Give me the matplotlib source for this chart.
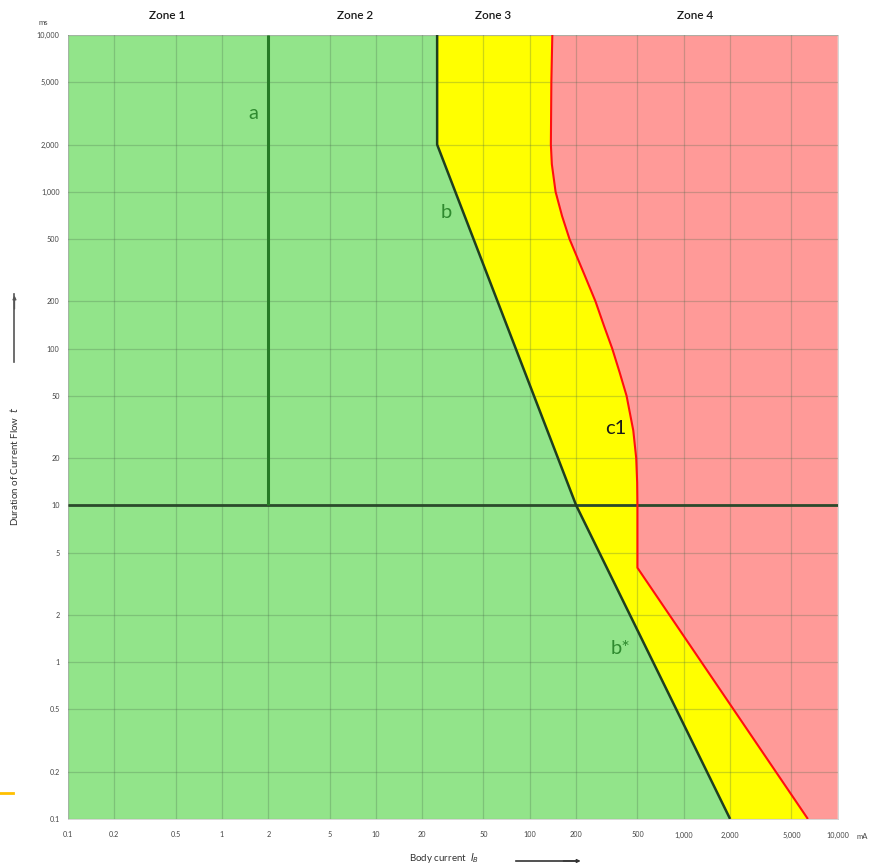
import matplotlib
matplotlib.use("Agg")
import matplotlib.pyplot as plt
from matplotlib.lines import Line2D

plt.rcParams['font.family'] = ['Lato', 'DejaVu Sans']

# ---- data ----
tick_values = [0.1, 0.2, 0.5, 1, 2, 5, 10, 20, 50, 100, 200, 500, 1000, 2000, 5000, 10000]
tick_labels = ["0.1", "0.2", "0.5", "1", "2", "5", "10", "20", "50", "100", "200", "500",
               "1,000", "2,000", "5,000", "10,000"]

# curve a: vertical at 2 mA
a_x = [2, 2]
a_y = [10, 10000]

# curve b / b*: boundary zone 2 / zone 3
b_x = [25, 25, 200, 2000]
b_y = [10000, 2000, 10, 0.1]

# curve c1: boundary zone 3 / zone 4
c1_x = [140, 138, 137, 139, 147, 162, 181, 225, 267, 303, 343, 384, 425, 470, 491, 498, 500, 500, 6400]
c1_y = [10000, 5000, 2000, 1500, 1000, 700, 500, 300, 200, 140, 100, 70, 50, 30, 20, 14, 10, 4, 0.1]

# horizontal 10 ms line
h_x = [0.1, 10000]
h_y = [10, 10]

zone_names = ["Zone 1", "Zone 2", "Zone 3", "Zone 4"]
zone_x = [0.44, 7.35, 58.0, 1190.0]

curve_labels = ["a", "b", "c1", "b*"]
curve_label_x = [1.6, 28.7, 360, 388]
curve_label_y = [3150, 733, 31, 1.23]
curve_label_colors = ["#2f8a2f", "#2f8a2f", "#1a1a1a", "#2f8a2f"]

# ---- figure ----
fig = plt.figure(figsize=(8.76, 8.66), dpi=100)
ax = fig.add_axes([0.0776, 0.0543, 0.8787, 0.9053])
ax.set_xscale('log')
ax.set_yscale('log')
ax.set_xlim(0.1, 10000)
ax.set_ylim(0.1, 10000)

xmin, xmax = 0.1, 10000
ymin, ymax = 0.1, 10000

green = "#92e48a"
yellow = "#ffff00"
red = "#ff9a98"

# green region: left of b
gx = [xmin, xmin] + b_x + [xmin]
gy = [ymin, ymax] + b_y + [ymin]
ax.fill(gx, gy, color=green, lw=0, zorder=1)

# yellow region: between b and c1
yx = b_x + c1_x[::-1]
yy = b_y + c1_y[::-1]
ax.fill(yx, yy, color=yellow, lw=0, zorder=1)

# red region: right of c1
rx = c1_x + [xmax, xmax]
ry = c1_y + [ymin, ymax]
ax.fill(rx, ry, color=red, lw=0, zorder=1)

# grid
ax.set_xticks(tick_values)
ax.set_xticklabels(tick_labels)
ax.set_yticks(tick_values)
ax.set_yticklabels(tick_labels)
ax.minorticks_off()
ax.grid(True, which='major', color='#4a6a4a', alpha=0.28, lw=0.9, zorder=2)
ax.set_axisbelow(False)
ax.tick_params(length=0, labelsize=5.2, labelcolor='#444444')
ax.tick_params(axis='x', pad=9)
ax.tick_params(axis='y', pad=6)

for s in ax.spines.values():
    s.set_color('#d0d0d0')
    s.set_linewidth(0.6)

# lines
ax.plot(h_x, h_y, color='#2b4a2b', lw=2.0, zorder=4, solid_capstyle='butt')
ax.plot(a_x, a_y, color='#267a26', lw=2.2, zorder=4, solid_capstyle='butt')
ax.plot(b_x, b_y, color='#1f3f1f', lw=1.8, zorder=5, solid_capstyle='butt')
ax.plot(c1_x, c1_y, color='#ff1010', lw=1.5, zorder=5, solid_capstyle='butt')

# curve labels
for lab, lx, ly, lc in zip(curve_labels, curve_label_x, curve_label_y, curve_label_colors):
    ax.text(lx, ly, lab, color=lc, fontsize=14.5, ha='center', va='center', zorder=6)

# zone labels
for zn, zx in zip(zone_names, zone_x):
    ax.text(zx, 1.018, zn, transform=ax.get_xaxis_transform(), ha='center', va='bottom',
            fontsize=8.5, color='#1a1a1a', fontweight='semibold')

# units
ax.text(-0.032, 1.012, "ms", transform=ax.transAxes, ha='center', va='bottom',
        fontsize=5.5, color='#444444')
ax.text(1.032, -0.0175, "mA", transform=ax.transAxes, ha='center', va='top',
        fontsize=5.5, color='#444444')

# y label with arrow
fig.text(0.016, 0.462, "Duration of Current Flow  $t$", rotation=90, ha='center', va='center',
         fontsize=7, color='#333333')
fig.add_artist(Line2D([0.0165, 0.0165], [0.582, 0.66], color='#555555', lw=1.2))
ax.annotate("", xy=(0.0165, 0.662), xytext=(0.0165, 0.64), xycoords='figure fraction',
            arrowprops=dict(arrowstyle='-|>', color='#555555', lw=1.0, mutation_scale=5))

# x label with arrow
fig.text(0.507, 0.009, "Body current  $I_B$", ha='center', va='center', fontsize=7, color='#333333')
fig.add_artist(Line2D([0.589, 0.66], [0.0058, 0.0058], color='#333333', lw=1.2))
ax.annotate("", xy=(0.666, 0.0058), xytext=(0.64, 0.0058), xycoords='figure fraction',
            arrowprops=dict(arrowstyle='-|>', color='#333333', lw=1.0, mutation_scale=5))

# small orange mark at left edge
fig.add_artist(Line2D([0.0, 0.015], [0.0843, 0.0843], color='#ffc000', lw=2.0))

fig.savefig("out.png", dpi=100)
